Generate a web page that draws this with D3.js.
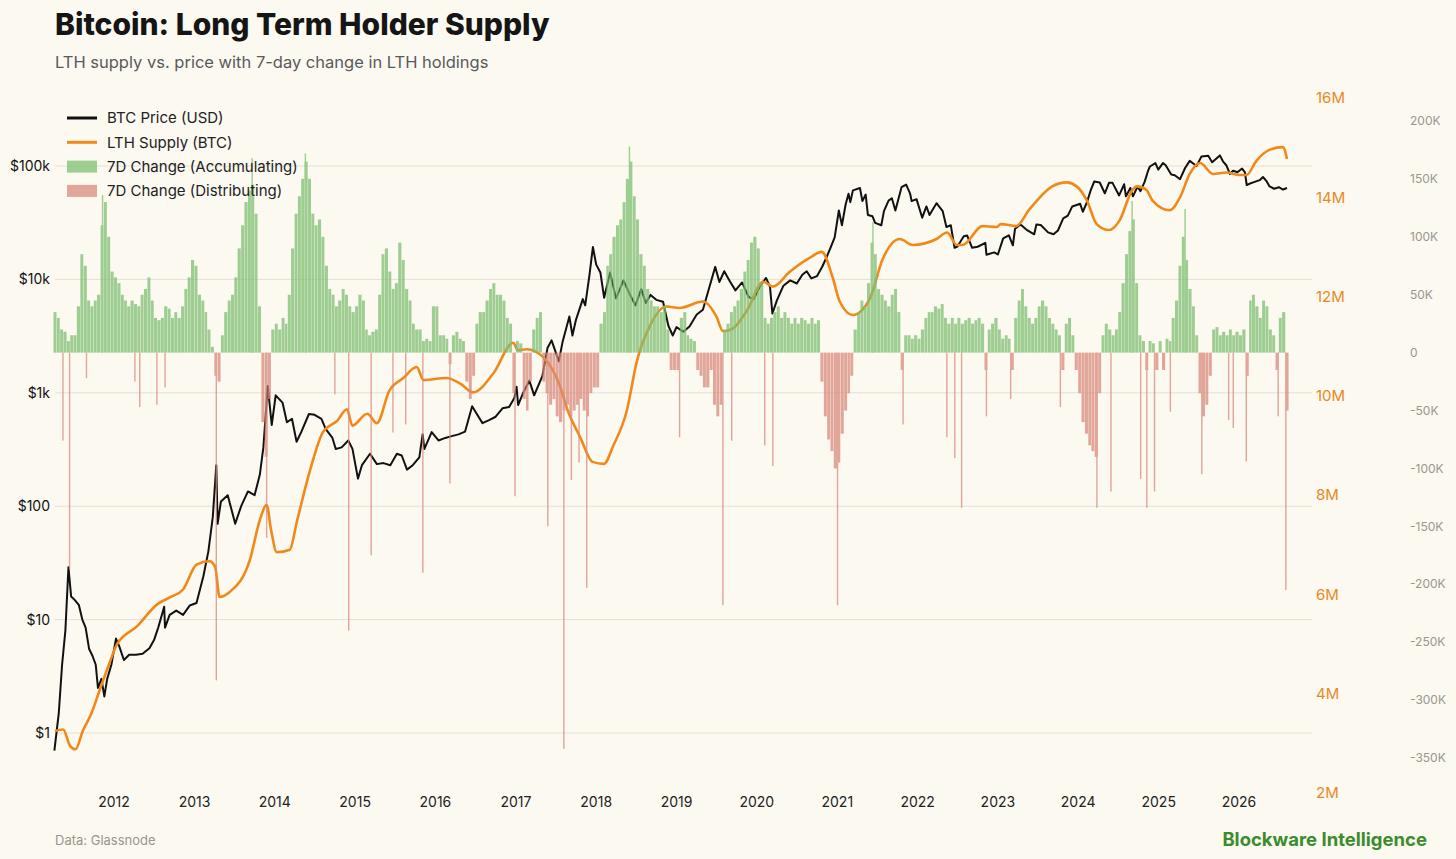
<!DOCTYPE html>
<html>
<head>
<meta charset="utf-8">
<script src="https://cdn.jsdelivr.net/npm/d3@7"></script>
<style>
  body { margin: 0; background: #fcf9f1; }
  svg { display: block; font-family: Inter, "Noto Sans", sans-serif; }
</style>
</head>
<body>
<svg id="chart" width="1456" height="859"></svg>
<script>
// ---- data ----
const priceTicks = [1, 10, 100, 1000, 10000, 100000];
const priceTickLabels = ["$1", "$10", "$100", "$1k", "$10k", "$100k"];
const lthTicks = [2, 4, 6, 8, 10, 12, 14, 16];            // million BTC
const chgTicks = [200, 150, 100, 50, 0, -50, -100, -150, -200, -250, -300, -350]; // thousand BTC
const years = d3.range(2012, 2027);

// BTC price, USD
const btcPrice = [
  ["2011-04-05",0.7],["2011-04-25",1.5],["2011-05-10",4],["2011-05-25",8],["2011-06-08",29],
  ["2011-06-20",16],["2011-07-05",15],["2011-07-25",13.5],["2011-08-10",10],["2011-08-25",8.5],
  ["2011-09-10",5.5],["2011-09-25",4.8],["2011-10-10",4],["2011-10-20",2.5],["2011-11-05",3],
  ["2011-11-18",2.1],["2011-12-01",3],["2011-12-20",4],["2012-01-10",6.8],["2012-01-25",5.8],
  ["2012-02-15",4.4],["2012-03-10",4.9],["2012-04-10",4.9],["2012-05-10",5.0],["2012-06-10",5.6],
  ["2012-07-01",6.6],["2012-07-20",8.5],["2012-08-16",13],["2012-08-20",8.5],["2012-09-10",11],
  ["2012-10-10",12],["2012-11-10",11],["2012-12-10",13.3],["2013-01-10",14],["2013-02-10",24],
  ["2013-03-05",40],["2013-03-25",80],["2013-04-10",230],["2013-04-16",70],["2013-05-01",110],
  ["2013-06-01",125],["2013-07-05",70],["2013-08-01",100],["2013-09-01",135],["2013-10-01",125],
  ["2013-10-25",190],["2013-11-10",330],["2013-11-30",1150],["2013-12-18",520],["2014-01-05",950],
  ["2014-02-05",820],["2014-02-25",550],["2014-03-20",590],["2014-04-10",370],["2014-05-01",450],
  ["2014-06-05",650],["2014-07-01",640],["2014-08-01",590],["2014-08-20",480],["2014-09-20",400],
  ["2014-10-05",320],["2014-11-01",330],["2014-12-01",380],["2014-12-20",320],["2015-01-14",175],
  ["2015-02-01",230],["2015-03-10",290],["2015-04-10",235],["2015-05-10",240],["2015-06-10",230],
  ["2015-07-10",290],["2015-08-01",280],["2015-08-25",210],["2015-09-20",230],["2015-10-20",270],
  ["2015-11-04",430],["2015-11-12",320],["2015-12-15",450],["2016-01-15",380],["2016-02-15",400],
  ["2016-03-15",415],["2016-04-15",430],["2016-05-15",455],["2016-06-16",760],["2016-07-01",680],
  ["2016-08-02",540],["2016-09-01",575],["2016-10-01",615],["2016-11-01",730],["2016-12-01",750],
  ["2016-12-25",900],["2017-01-04",1130],["2017-01-11",780],["2017-02-01",980],["2017-03-03",1280],
  ["2017-03-25",950],["2017-05-01",1400],["2017-05-25",2500],["2017-06-12",2900],["2017-07-15",1900],
  ["2017-08-01",2800],["2017-09-01",4700],["2017-09-15",3200],["2017-10-01",4400],["2017-11-01",6700],
  ["2017-11-12",5900],["2017-12-01",10800],["2017-12-17",19300],["2018-01-01",13500],["2018-01-20",11500],
  ["2018-02-06",6900],["2018-03-05",11500],["2018-04-01",6800],["2018-05-05",9800],["2018-06-01",7500],
  ["2018-06-28",5900],["2018-07-25",8200],["2018-08-14",6200],["2018-09-05",7300],["2018-10-01",6600],
  ["2018-11-01",6350],["2018-11-25",3900],["2018-12-15",3200],["2019-01-01",3800],["2019-02-01",3450],
  ["2019-03-01",3850],["2019-04-03",4900],["2019-05-01",5400],["2019-05-30",8500],["2019-06-26",12900],
  ["2019-07-15",9500],["2019-08-06",11800],["2019-09-01",9600],["2019-09-26",8000],["2019-10-26",9400],
  ["2019-11-25",7000],["2019-12-18",6700],["2020-01-15",8700],["2020-02-12",10300],["2020-03-01",8600],
  ["2020-03-12",5000],["2020-04-01",6500],["2020-05-01",8800],["2020-06-01",9800],["2020-07-01",9200],
  ["2020-07-26",11000],["2020-08-15",11800],["2020-09-05",10200],["2020-10-01",10700],["2020-10-25",13000],
  ["2020-11-15",16000],["2020-12-01",19000],["2020-12-20",23500],["2021-01-08",40500],["2021-01-22",30000],
  ["2021-02-08",46000],["2021-02-21",57000],["2021-03-01",48000],["2021-03-13",61000],["2021-04-14",64000],
  ["2021-04-25",49000],["2021-05-10",56000],["2021-05-20",37000],["2021-06-10",36000],["2021-06-22",31500],
  ["2021-07-20",30000],["2021-08-01",40000],["2021-08-22",49500],["2021-09-06",52000],["2021-09-22",40500],
  ["2021-10-20",65000],["2021-11-10",68500],["2021-11-28",57000],["2021-12-05",49000],["2021-12-27",51000],
  ["2022-01-22",35000],["2022-02-10",44000],["2022-02-24",37000],["2022-03-28",47000],["2022-04-25",40000],
  ["2022-05-12",29000],["2022-06-01",30000],["2022-06-18",19000],["2022-07-01",19500],["2022-07-30",24000],
  ["2022-08-14",24400],["2022-09-06",19000],["2022-10-01",19400],["2022-11-05",21000],["2022-11-10",16500],
  ["2022-12-15",17300],["2023-01-01",16600],["2023-01-25",23000],["2023-02-20",24500],["2023-03-10",20000],
  ["2023-03-20",28000],["2023-04-14",30500],["2023-05-10",27500],["2023-06-15",25000],["2023-06-25",30500],
  ["2023-07-15",30200],["2023-08-17",26000],["2023-09-11",25000],["2023-10-01",27000],["2023-10-25",34500],
  ["2023-11-15",36500],["2023-12-05",44000],["2024-01-10",46500],["2024-01-22",39500],["2024-02-10",48000],
  ["2024-02-28",62000],["2024-03-14",73000],["2024-04-08",71500],["2024-05-01",57500],["2024-05-20",71000],
  ["2024-06-05",71000],["2024-07-05",55000],["2024-07-28",69000],["2024-08-05",54000],["2024-08-25",64000],
  ["2024-09-06",54000],["2024-09-27",66000],["2024-10-10",60000],["2024-10-29",72500],["2024-11-13",90000],
  ["2024-11-22",99000],["2024-12-17",106000],["2024-12-30",93000],["2025-01-20",106000],["2025-02-01",102000],
  ["2025-02-27",84000],["2025-03-15",83000],["2025-04-08",76500],["2025-05-01",96000],["2025-05-22",111000],
  ["2025-06-22",100000],["2025-07-14",121000],["2025-08-14",123000],["2025-09-01",108000],["2025-10-06",124000],
  ["2025-10-20",110000],["2025-11-05",101000],["2025-11-21",85000],["2025-12-05",91000],["2025-12-25",88000],
  ["2026-01-15",95000],["2026-01-28",88000],["2026-02-05",68000],["2026-02-20",70000],["2026-03-10",72000],
  ["2026-04-05",75000],["2026-04-20",80000],["2026-05-05",74000],["2026-05-20",66000],["2026-06-10",63000],
  ["2026-07-01",65000],["2026-07-20",62000],["2026-08-07",64000]
];

// LTH supply, million BTC
const lthSupply = [
  ["2011-04-08",3.25],["2011-05-15",3.28],["2011-06-15",2.95],["2011-07-10",2.88],["2011-08-12",3.25],
  ["2011-09-20",3.6],["2011-10-30",4.1],["2011-12-10",4.6],["2012-01-15",5.0],["2012-04-15",5.36],
  ["2012-07-15",5.8],["2012-09-15",5.95],["2012-11-10",6.1],["2013-01-10",6.6],["2013-03-10",6.67],
  ["2013-04-05",6.55],["2013-04-25",5.95],["2013-06-10",6.05],["2013-09-10",6.7],["2013-10-25",7.5],
  ["2013-11-25",7.8],["2013-12-15",7.3],["2014-01-10",6.85],["2014-03-10",6.9],["2014-04-12",7.48],
  ["2014-06-10",8.5],["2014-08-08",9.27],["2014-10-12",9.5],["2014-11-25",9.73],["2014-12-20",9.4],
  ["2015-02-25",9.64],["2015-04-10",9.45],["2015-06-05",10.1],["2015-08-08",10.36],["2015-10-08",10.58],
  ["2015-11-08",10.32],["2016-02-20",10.36],["2016-04-25",10.24],["2016-06-20",10.07],["2016-09-20",10.45],
  ["2016-12-20",11.07],["2017-01-10",10.92],["2017-02-20",10.94],["2017-05-05",10.78],["2017-07-20",10.2],
  ["2017-08-25",9.7],["2017-10-20",9.17],["2017-12-15",8.67],["2018-02-05",8.63],["2018-03-20",9.0],
  ["2018-05-20",9.7],["2018-07-05",10.7],["2018-09-01",11.4],["2018-11-15",11.8],["2019-01-15",11.77],
  ["2019-05-01",11.9],["2019-07-01",11.6],["2019-08-01",11.3],["2019-09-12",11.35],["2019-11-15",11.7],
  ["2020-01-30",12.3],["2020-03-15",12.2],["2020-05-30",12.5],["2020-08-28",12.78],["2020-10-22",12.9],
  ["2020-12-10",12.4],["2021-01-12",11.9],["2021-03-12",11.63],["2021-05-30",11.97],["2021-07-25",12.74],
  ["2021-10-12",13.16],["2021-12-10",13.04],["2022-03-28",13.16],["2022-05-15",13.29],["2022-06-28",13.04],
  ["2022-07-25",13.04],["2022-10-22",13.42],["2022-12-25",13.4],["2023-01-15",13.46],["2023-03-25",13.42],
  ["2023-05-25",13.76],["2023-09-05",14.22],["2023-11-10",14.3],["2023-12-25",14.22],["2024-02-10",13.93],
  ["2024-03-25",13.46],["2024-05-20",13.34],["2024-07-08",13.54],["2024-09-02",14.14],["2024-09-25",14.22],
  ["2024-11-05",14.15],["2024-12-05",13.93],["2025-02-20",13.74],["2025-04-08",14.0],["2025-05-22",14.47],
  ["2025-07-08",14.69],["2025-09-05",14.47],["2025-11-05",14.5],["2026-01-05",14.45],["2026-02-05",14.45],
  ["2026-03-20",14.73],["2026-05-22",14.96],["2026-07-20",15.01],["2026-08-07",14.77]
];

// 7D change in LTH holdings, thousand BTC, one value per half month (from Apr 2011)
const chg2011 = [35,30,20,18,10,15,15,40,85,75,45,40,45,50,110,130,100,70];
const chg2012 = [65,60,50,45,40,45,42,40,50,55,65,45,30,28,30,40,38,30,35,30,40,55,65,80];
const chg2013 = [75,50,45,35,20,5,-20,-25,15,35,45,50,65,90,110,130,140,145,120,40,-60,-90,-40,20];
const chg2014 = [25,20,30,25,50,90,120,135,150,165,150,120,110,115,100,75,55,50,40,45,55,50,40,35];
const chg2015 = [40,50,45,20,15,18,20,50,85,90,70,55,60,95,80,55,45,25,20,20,10,12,10,40];
const chg2016 = [40,15,15,12,-10,15,18,12,10,-25,-40,-20,25,35,35,45,55,60,50,50,45,30,25,-35];
const chg2017 = [10,8,-40,-50,-25,20,30,35,-25,-35,-45,-40,-55,-60,-50,-45,-55,-50,-45,-40,-50,-55,-35,-30];
const chg2018 = [-30,25,35,75,85,100,110,115,130,150,165,135,115,85,75,55,45,40,40,35,40,20,-15,-15];
const chg2019 = [-15,30,35,15,12,10,-15,-20,-30,-30,-15,-45,-55,-45,20,25,35,40,45,55,70,80,95,100];
const chg2020 = [90,60,30,25,30,35,40,30,35,30,25,30,25,30,28,25,30,25,28,-25,-55,-75,-85,-100];
const chg2021 = [-95,-70,-50,-35,-20,20,35,45,40,60,95,85,55,50,45,40,50,55,35,-15,15,15,12,15];
const chg2022 = [12,20,30,35,35,40,38,42,30,25,30,25,30,25,28,30,25,28,30,25,-15,20,25,30];
const chg2023 = [20,12,15,12,-15,30,45,55,40,30,25,30,40,45,40,30,25,20,15,-15,25,30,15,-15];
const chg2024 = [-35,-60,-70,-80,-85,-90,-35,15,25,20,15,20,35,60,85,105,115,60,15,10,-15,10,8,-15];
const chg2025 = [10,-15,12,10,30,45,75,100,80,55,40,15,-35,-55,-45,-20,20,22,15,18,15,20,15,18];
const chg2026 = [15,20,-20,45,50,40,30,45,40,20,15,-15,30,35,-50];

// single-day extremes, thousand BTC
const chgSpikes = [
  ["2011-05-14",-76],["2011-06-13",-187],["2011-08-29",-22],["2011-11-10",136],["2012-04-05",-25],
  ["2012-04-27",-47],["2012-07-14",-45],["2012-08-20",-30],["2013-04-10",-283],["2013-09-20",168],
  ["2013-11-25",-160],["2014-05-20",172],["2014-10-01",-36],["2014-12-03",-240],["2015-03-15",-175],
  ["2015-06-22",-69],["2015-08-19",-62],["2015-11-05",-190],["2016-03-07",-113],["2016-12-28",-124],
  ["2017-05-26",-150],["2017-08-07",-342],["2017-09-10",-110],["2017-10-15",-95],["2017-11-19",-203],
  ["2018-06-01",178],["2019-01-15",-73],["2019-07-31",-218],["2019-09-09",-76],["2020-02-06",-80],
  ["2020-03-14",-98],["2021-01-02",-218],["2021-06-12",113],["2021-10-27",-62],["2022-05-14",-73],
  ["2022-06-19",-91],["2022-07-20",-134],["2022-11-10",-55],["2023-02-28",-40],["2023-10-12",-47],
  ["2024-03-26",-134],["2024-05-29",-120],["2024-09-02",131],["2024-10-11",-109],["2024-11-08",-134],
  ["2024-12-13",-120],["2025-02-23",-51],["2025-05-01",124],["2025-07-16",-105],["2025-11-15",-58],
  ["2025-12-06",-65],["2026-02-03",-94],["2026-06-28",-55],["2026-08-02",-205]
];

const legendItems = [
  { label: "BTC Price (USD)", type: "line", color: "#111111" },
  { label: "LTH Supply (BTC)", type: "line", color: "#f0891a" },
  { label: "7D Change (Accumulating)", type: "rect", color: "#7fbf72" },
  { label: "7D Change (Distributing)", type: "rect", color: "#d98a7c" }
];

// ---- drawing ----
const parse = d3.utcParse("%Y-%m-%d");
const svg = d3.select("#chart");
const green = "#7fbf72", red = "#d98a7c", orange = "#f0891a";

svg.append("rect").attr("width", 1456).attr("height", 859).attr("fill", "#fcf9f1");

const x = d3.scaleUtc()
    .domain([Date.UTC(2012, 0, 1), Date.UTC(2026, 0, 1)])
    .range([114, 1239]);
const yPrice = d3.scaleLog().domain([1, 100000]).range([733, 166]);
const yLth = d3.scaleLinear().domain([2, 16]).range([793, 98]);
const yChg = d3.scaleLinear().domain([-350, 200]).range([758, 121]);

// title block
svg.append("text").attr("x", 55).attr("y", 35)
    .attr("font-size", 30).attr("font-weight", 800).attr("fill", "#151515")
    .text("Bitcoin: Long Term Holder Supply");
svg.append("text").attr("x", 55).attr("y", 68)
    .attr("font-size", 16.5).attr("fill", "#5a5a5a")
    .text("LTH supply vs. price with 7-day change in LTH holdings");

// grid + left axis
const gLeft = svg.append("g");
gLeft.selectAll("line").data(priceTicks).enter().append("line")
    .attr("x1", 55).attr("x2", 1312)
    .attr("y1", d => yPrice(d)).attr("y2", d => yPrice(d))
    .attr("stroke", "#e4e0d5").attr("stroke-width", 1);
gLeft.selectAll("text").data(priceTicks).enter().append("text")
    .attr("x", 50).attr("y", d => yPrice(d)).attr("dy", "0.35em")
    .attr("text-anchor", "end").attr("font-size", 14).attr("fill", "#111")
    .text((d, i) => priceTickLabels[i]);

// right axes
svg.append("g").selectAll("text").data(lthTicks).enter().append("text")
    .attr("x", 1316).attr("y", d => yLth(d)).attr("dy", "0.35em")
    .attr("font-size", 15).attr("fill", "#e8891f")
    .text(d => d + "M");
svg.append("g").selectAll("text").data(chgTicks).enter().append("text")
    .attr("x", 1410).attr("y", d => yChg(d)).attr("dy", "0.35em")
    .attr("font-size", 12).attr("fill", "#9a968e")
    .text(d => d === 0 ? "0" : (d < 0 ? "-" : "") + Math.abs(d) + "K");

// x axis labels
svg.append("g").selectAll("text").data(years).enter().append("text")
    .attr("x", d => x(Date.UTC(d, 0, 1))).attr("y", 807)
    .attr("text-anchor", "middle").attr("font-size", 14).attr("fill", "#222")
    .text(d => d);

// lines
const priceData = btcPrice.map(d => ({ date: parse(d[0]), v: d[1] }));
const lthData = lthSupply.map(d => ({ date: parse(d[0]), v: d[1] }));

svg.append("path").datum(priceData)
    .attr("fill", "none").attr("stroke", "#111").attr("stroke-width", 2)
    .attr("stroke-linejoin", "round")
    .attr("d", d3.line().x(d => x(d.date)).y(d => yPrice(d.v)));
svg.append("path").datum(lthData)
    .attr("fill", "none").attr("stroke", orange).attr("stroke-width", 2.6)
    .attr("stroke-linejoin", "round")
    .attr("d", d3.line().curve(d3.curveMonotoneX).x(d => x(d.date)).y(d => yLth(d.v)));

// 7D change bars (drawn over the lines, semi-transparent)
const chgAll = [].concat(chg2011, chg2012, chg2013, chg2014, chg2015, chg2016, chg2017,
    chg2018, chg2019, chg2020, chg2021, chg2022, chg2023, chg2024, chg2025, chg2026);
const binStart = i => Date.UTC(2011, 3 + Math.floor(i / 2), i % 2 ? 16 : 1);
const bins = chgAll.map((v, i) => ({ t0: binStart(i), t1: binStart(i + 1), v }));

const gBars = svg.append("g").attr("opacity", 0.75);
gBars.selectAll("rect.bin").data(bins).enter().append("rect")
    .attr("class", "bin")
    .attr("x", d => x(d.t0)).attr("width", d => x(d.t1) - x(d.t0) - 0.35)
    .attr("y", d => Math.min(yChg(d.v), yChg(0)))
    .attr("height", d => Math.abs(yChg(d.v) - yChg(0)))
    .attr("fill", d => d.v >= 0 ? green : red);
gBars.selectAll("rect.spike").data(chgSpikes).enter().append("rect")
    .attr("class", "spike")
    .attr("x", d => x(parse(d[0])) - 0.7).attr("width", 1.4)
    .attr("y", d => Math.min(yChg(d[1]), yChg(0)))
    .attr("height", d => Math.abs(yChg(d[1]) - yChg(0)))
    .attr("fill", d => d[1] >= 0 ? green : red);

// legend
const gLeg = svg.append("g").attr("transform", "translate(67,118)");
const li = gLeg.selectAll("g").data(legendItems).enter().append("g")
    .attr("transform", (d, i) => `translate(0,${i * 24.3})`);
li.filter(d => d.type === "line").append("line")
    .attr("x1", 0).attr("x2", 30).attr("y1", 0).attr("y2", 0)
    .attr("stroke", d => d.color).attr("stroke-width", 3);
li.filter(d => d.type === "rect").append("rect")
    .attr("x", 0).attr("y", -6).attr("width", 30).attr("height", 12)
    .attr("fill", d => d.color).attr("opacity", 0.75);
li.append("text").attr("x", 40).attr("dy", "0.35em")
    .attr("font-size", 15).attr("fill", "#222")
    .text(d => d.label);

// footer
svg.append("text").attr("x", 55).attr("y", 845)
    .attr("font-size", 13).attr("fill", "#9a968e")
    .text("Data: Glassnode");
svg.append("text").attr("x", 1427).attr("y", 846)
    .attr("text-anchor", "end").attr("font-size", 18.5).attr("font-weight", 700)
    .attr("fill", "#3b8c2c")
    .text("Blockware Intelligence");
</script>
</body>
</html>
